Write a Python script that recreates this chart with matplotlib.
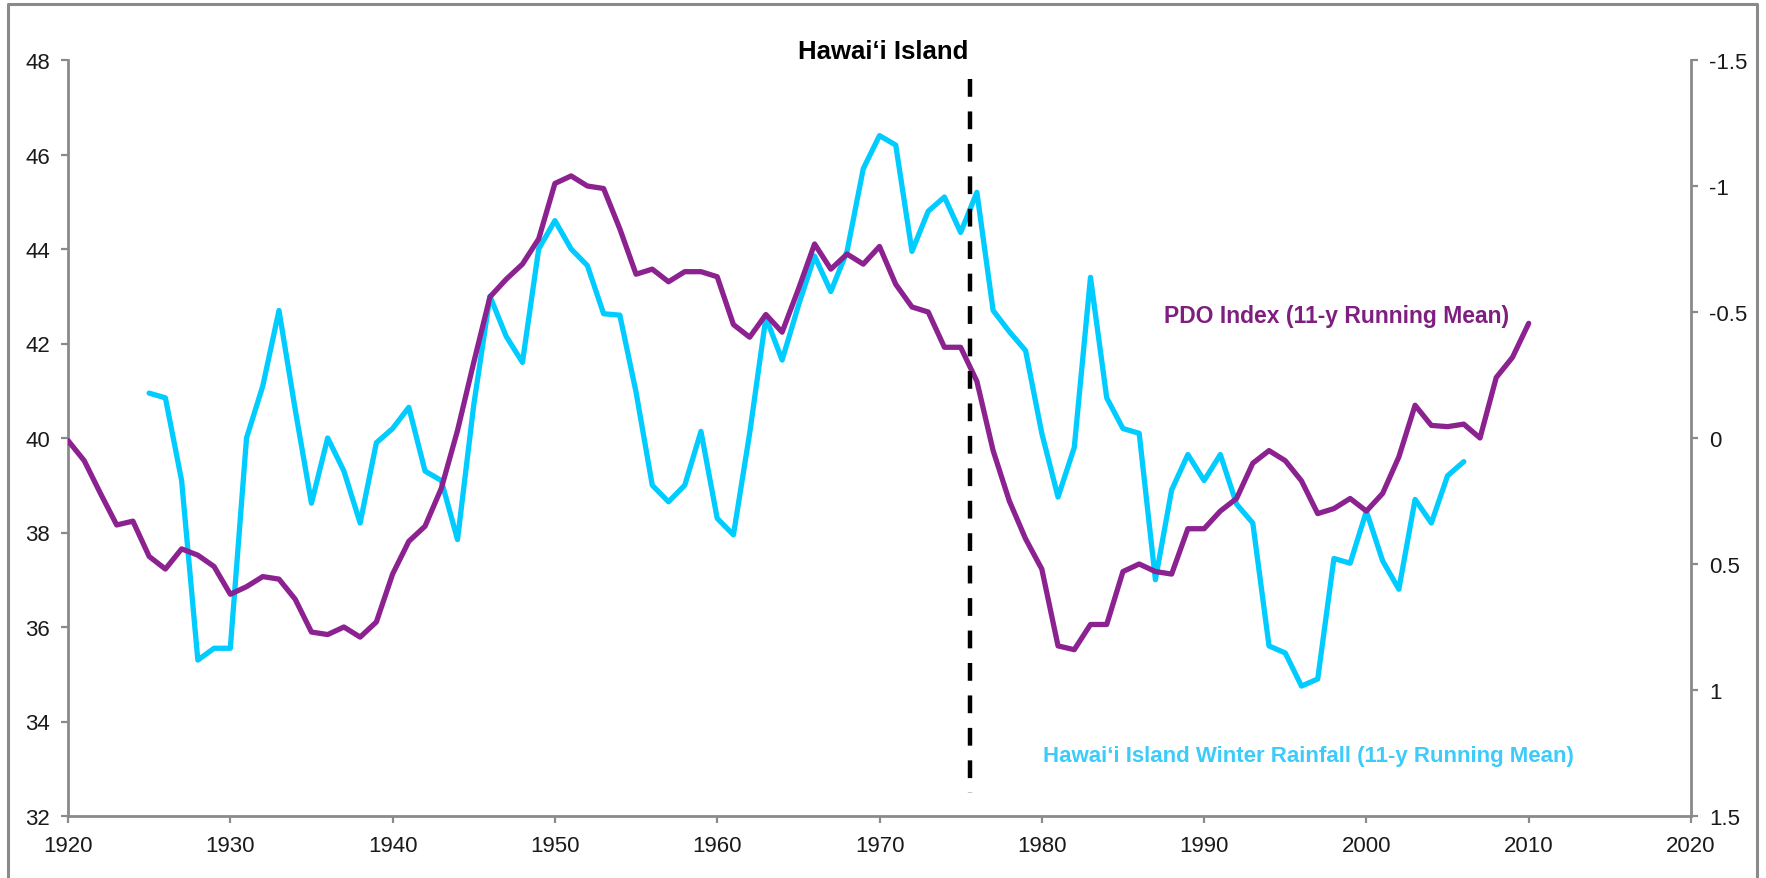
import numpy as np
import matplotlib
matplotlib.use("Agg")
import matplotlib.pyplot as plt
from matplotlib.lines import Line2D
from matplotlib.ticker import MultipleLocator, FuncFormatter

plt.rcParams['font.family'] = ['Liberation Sans', 'DejaVu Sans']
plt.rcParams['axes.unicode_minus'] = False

# Hawai'i Island winter rainfall, 11-y running mean (left axis)
rain_years = np.arange(1925, 2007)
rain_vals = [
    40.95, 40.85, 39.1, 35.3, 35.55, 35.55, 40.0, 41.1, 42.7, 40.6,   # 1925-1934
    38.62, 40.0, 39.3, 38.2, 39.9, 40.2, 40.65, 39.3, 39.1, 37.85,    # 1935-1944
    40.7, 43.0, 42.15, 41.6, 44.0, 44.6, 44.0, 43.65, 42.63, 42.6,    # 1945-1954
    40.97, 39.0, 38.65, 39.0, 40.14, 38.3, 37.95, 40.1, 42.55, 41.65, # 1955-1964
    42.8, 43.85, 43.1, 43.95, 45.7, 46.4, 46.2, 43.95, 44.8, 45.1,    # 1965-1974
    44.35, 45.2, 42.7, 42.25, 41.85, 40.1, 38.75, 39.8, 43.4, 40.85,  # 1975-1984
    40.2, 40.1, 37.0, 38.9, 39.65, 39.1, 39.65, 38.6, 38.2, 35.6,     # 1985-1994
    35.45, 34.75, 34.9, 37.45, 37.35, 38.45, 37.4, 36.8, 38.7, 38.2,  # 1995-2004
    39.2, 39.5,                                                       # 2005-2006
]

# PDO index, 11-y running mean (right axis, inverted)
pdo_years = np.arange(1920, 2011)
pdo_vals = [
    0.01, 0.09, 0.22, 0.345, 0.33, 0.47, 0.52, 0.44, 0.465, 0.51,     # 1920-1929
    0.62, 0.59, 0.55, 0.56, 0.64, 0.77, 0.78, 0.75, 0.79, 0.73,       # 1930-1939
    0.54, 0.41, 0.35, 0.2, -0.03, -0.3, -0.56, -0.63, -0.69, -0.79,   # 1940-1949
    -1.01, -1.04, -1.0, -0.99, -0.83, -0.65, -0.67, -0.62, -0.66, -0.66,  # 1950-1959
    -0.64, -0.45, -0.40, -0.49, -0.42, -0.59, -0.77, -0.67, -0.73, -0.69, # 1960-1969
    -0.76, -0.61, -0.52, -0.50, -0.36, -0.36, -0.225, 0.05, 0.25, 0.40,   # 1970-1979
    0.52, 0.825, 0.84, 0.74, 0.74, 0.53, 0.50, 0.53, 0.54, 0.36,      # 1980-1989
    0.36, 0.29, 0.24, 0.10, 0.05, 0.09, 0.17, 0.30, 0.28, 0.24,       # 1990-1999
    0.29, 0.22, 0.075, -0.13, -0.05, -0.045, -0.055, 0.0, -0.24, -0.32,  # 2000-2009
    -0.455,                                                           # 2010
]

shift_year = 1975.6
title = "Hawai\u2018i Island"
rain_label = "Hawai\u2018i Island Winter Rainfall (11-y Running Mean)"
pdo_label = "PDO Index (11-y Running Mean)"

cyan = "#00CCFF"
purple = "#8C2290"
gray = "#8A8A8A"

fig = plt.figure(figsize=(17.66, 8.79), dpi=100)
ax = fig.add_axes([68 / 1766, 1 - 817 / 879, (1691 - 68) / 1766, (817 - 61) / 879])
ax2 = ax.twinx()

ax.plot(rain_years, rain_vals, color=cyan, lw=3.8, solid_joinstyle='round',
        solid_capstyle='round', zorder=2)
ax2.plot(pdo_years, pdo_vals, color=purple, lw=3.8, solid_joinstyle='round',
         solid_capstyle='round', zorder=2)
ax2.plot([shift_year, shift_year], [-1.425, 1.41], color='black', lw=3.2,
         linestyle=(0, (4, 3.3)), zorder=3)

ax.set_xlim(1920, 2020)
ax.set_ylim(32, 48)
ax2.set_ylim(1.5, -1.5)

ax.xaxis.set_major_locator(MultipleLocator(10))
ax.yaxis.set_major_locator(MultipleLocator(2))
ax2.yaxis.set_major_locator(MultipleLocator(0.5))
ax2.yaxis.set_major_formatter(FuncFormatter(lambda v, p: "%g" % v))

for a in (ax, ax2):
    a.patch.set_visible(False)
    a.spines['top'].set_visible(False)
    for s in a.spines.values():
        s.set_color(gray)
        s.set_linewidth(2.0)
    a.tick_params(colors=gray, labelcolor='#1a1a1a', labelsize=16, width=1.6,
                  length=5, direction='out')
ax.spines['right'].set_visible(False)
ax2.spines['left'].set_visible(False)
ax2.spines['bottom'].set_visible(False)
ax.tick_params(axis='y', pad=8)
ax.tick_params(axis='x', pad=9)
ax2.tick_params(axis='y', pad=8)

fig.text(0.5, 1 - 52 / 879, title, ha='center', va='center', fontsize=18.5,
         fontweight='bold', color='black')
ax.text(1987.5, 42.6, pdo_label, ha='left', va='center', fontsize=16.5,
        fontweight='bold', color='#7E1F80')
ax.text(1980.1, 33.29, rain_label, ha='left', va='center', fontsize=16,
        fontweight='bold', color='#3CCBFA')

# outer frame of the picture
x0, x1, yt = 8 / 1766, 1757 / 1766, 1 - 5 / 879
fig.add_artist(Line2D([x0, x0, x1, x1], [-0.01, yt, yt, -0.01],
                      transform=fig.transFigure, color=gray, lw=2.2))

fig.savefig("out.png", dpi=100, facecolor='white')
